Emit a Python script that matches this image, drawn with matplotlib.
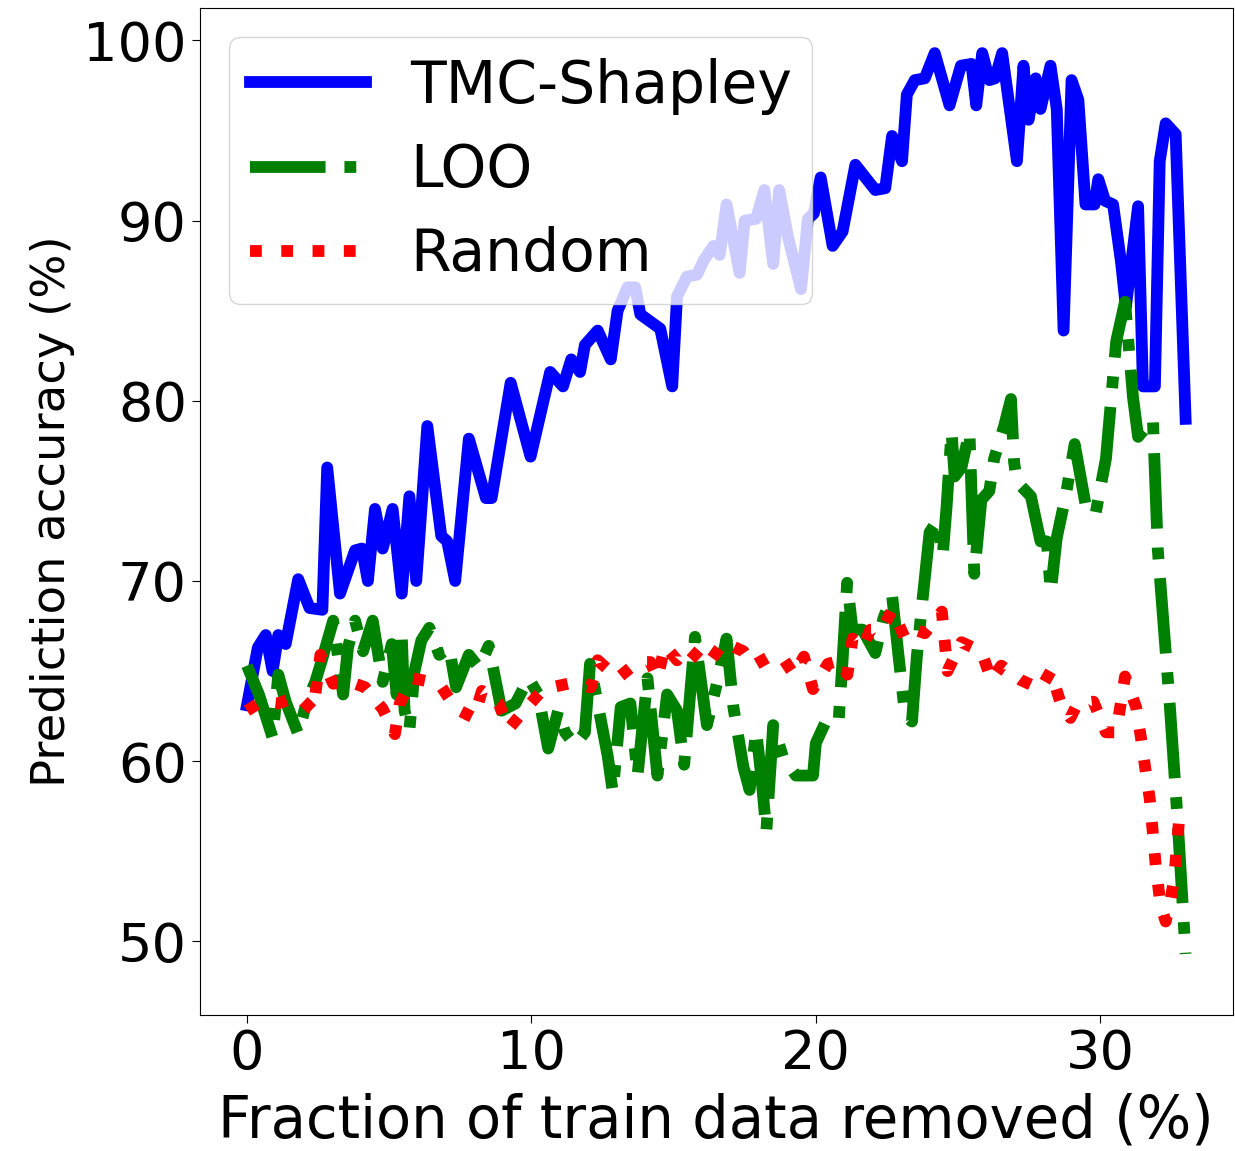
import matplotlib
matplotlib.use("Agg")
import matplotlib.pyplot as plt

# TMC-Shapley
x_tmc = [0, 0.38, 0.66, 0.9, 1.1, 1.36, 1.8, 2.2, 2.65, 2.82, 3.27, 3.8, 4.04, 4.25,
         4.5, 4.77, 5.12, 5.44, 5.71, 5.95, 6.34, 6.83, 7.04, 7.32, 7.8, 8.4, 8.6,
         9.27, 9.97, 10.66, 11.11, 11.4, 11.71, 11.88, 12.33, 12.79, 13.03, 13.38,
         13.65, 13.83, 14.53, 14.95, 15.12, 15.47, 15.82, 16.06, 16.4, 16.62, 16.86,
         17.32, 17.5, 17.9, 18.19, 18.5, 18.71, 19.02, 19.48, 19.72, 19.93, 20.17,
         20.59, 20.94, 21.39, 21.74, 22.09, 22.44, 22.68, 23.03, 23.2, 23.48, 23.83,
         24.18, 24.7, 25.1, 25.47, 25.64, 25.85, 26.1, 26.3, 26.55, 27.07, 27.3,
         27.48, 27.73, 27.9, 28.25, 28.47, 28.71, 28.99, 29.23, 29.48, 29.8, 29.93,
         30.17, 30.45, 30.73, 30.9, 31.33, 31.5, 31.92, 32.09, 32.3, 32.65, 33.0]
y_tmc = [63.1, 66.3, 67.0, 65.0, 67.0, 66.5, 70.1, 68.5, 68.4, 76.3, 69.3, 71.7, 71.8, 70.0,
         74.0, 71.8, 74.0, 69.3, 74.7, 70.0, 78.6, 72.5, 72.2, 70.0, 77.9, 74.6, 74.6,
         81.0, 76.9, 81.6, 80.8, 82.3, 81.6, 83.1, 83.9, 82.3, 85.0, 86.3,
         86.3, 84.8, 84.0, 80.8, 85.8, 86.9, 87.0, 87.8, 88.6, 88.1, 90.9,
         87.1, 90.0, 90.1, 91.7, 87.6, 91.7, 89.1, 86.2, 90.1, 90.4, 92.4,
         88.6, 89.4, 93.1, 92.4, 91.7, 91.8, 94.7, 93.3, 97.0, 97.8, 97.9,
         99.3, 96.4, 98.6, 98.7, 96.4, 99.3, 97.8, 97.9, 99.3, 93.3, 98.6,
         95.6, 97.9, 96.2, 98.6, 96.2, 83.9, 97.8, 96.7, 90.9, 90.9, 92.3,
         91.1, 90.9, 87.7, 85.2, 90.8, 80.8, 80.8, 93.3, 95.4, 94.8, 79.0]

# LOO
x_loo = [0, 0.42, 0.9, 1.1, 1.36, 1.8, 2.1, 2.4, 2.65, 3.03, 3.38, 3.55, 3.8, 4.08, 4.42,
         4.77, 5.09, 5.26, 5.44, 5.54, 5.71, 5.89, 6.13, 6.41, 6.76, 7.11, 7.35, 7.8,
         8.15, 8.5, 8.95, 9.44, 9.9, 10.24, 10.59, 10.94, 11.18, 11.53, 11.88, 12.06,
         12.33, 12.68, 12.86, 13.14, 13.48, 13.73, 14.08, 14.43, 14.77, 15.12, 15.37,
         15.75, 16.17, 16.52, 16.86, 17.1, 17.45, 17.67, 17.9, 18.08, 18.26, 18.5,
         18.85, 19.3, 19.9, 20.0, 20.35, 20.8, 20.94, 21.1, 21.29, 21.64, 22.09,
         22.37, 22.68, 22.89, 23.14, 23.38, 23.55, 23.76, 24.0, 24.29, 24.46, 24.6,
         24.77, 24.88, 25.12, 25.4, 25.57, 25.82, 26.1, 26.27, 26.62, 26.86, 26.97,
         27.07, 27.56, 27.9, 28.12, 28.26, 28.47, 28.78, 29.1, 29.51, 29.83, 30.2,
         30.56, 30.87, 31.15, 31.33, 31.85, 32.02, 32.44, 32.72, 33.0]
y_loo = [65.3, 63.7, 61.3, 64.8, 63.3, 61.5, 63.3, 64.4, 65.7, 67.8, 63.7, 66.3, 67.8, 66.1, 67.8,
         64.4, 66.5, 63.7, 67.0, 62.8, 61.7, 65.0, 66.7, 67.4, 65.9, 66.3, 64.1, 65.9,
         65.2, 66.4, 62.8, 63.2, 64.6, 63.7, 60.7, 62.8, 61.6, 60.9, 61.6, 65.4,
         63.2, 60.3, 58.3, 63.0, 63.2, 59.2, 64.6, 59.2, 63.7, 62.8, 59.8,
         66.9, 62.0, 64.3, 66.8, 63.0, 59.7, 58.4, 61.7, 59.2, 56.1, 62.0,
         60.2, 59.2, 59.2, 61.0, 62.2, 62.2, 65.6, 69.9, 67.3, 67.3, 66.0,
         67.9, 69.2, 66.1, 62.5, 62.2, 65.8, 69.1, 72.7, 73.4, 71.4, 74.2,
         78.3, 75.8, 76.3, 78.3, 70.4, 74.5, 75.0, 76.8, 78.6, 80.1, 76.6,
         75.5, 74.7, 72.2, 72.2, 69.4, 72.4, 74.7, 77.6, 74.0, 73.7, 76.8,
         83.3, 85.5, 80.2, 78.0, 79.0, 71.8, 63.2, 56.7, 49.3]

# Random
x_rand = [0, 0.49, 1.08, 1.81, 2.33, 2.58, 3.03, 3.62, 4.15, 4.77, 5.2, 5.37, 5.82, 6.76,
          7.35, 7.98, 8.26, 8.85, 9.2, 9.79, 10.42, 11.29, 12.09, 12.33, 13.03, 13.73,
          14.18, 14.43, 14.7, 15.12, 15.47, 16.17, 16.76, 17.45, 17.8, 18.36, 18.85,
          19.23, 19.58, 19.9, 20.42, 20.87, 21.11, 21.29, 21.64, 21.92, 22.33, 22.68,
          23.14, 23.48, 23.83, 24.43, 24.63, 25.12, 25.82, 26.17, 26.52, 27.21, 27.9,
          28.26, 28.61, 28.95, 29.2, 29.76, 30.2, 30.56, 30.87, 31.26, 31.43, 31.6,
          31.74, 31.85, 31.95, 32.12, 32.3, 32.47, 32.6, 32.78, 33.0]
y_rand = [62.8, 63.3, 63.2, 63.6, 62.8, 65.9, 64.3, 64.4, 64.1, 62.9, 61.5, 63.2, 64.6, 64.3,
          62.9, 62.4, 63.9, 63.2, 61.8, 62.9, 64.0, 64.3, 64.1, 65.6, 64.6, 65.5,
          65.5, 64.6, 66.4, 65.6, 66.3, 65.3, 66.6, 66.1, 65.3, 65.8, 65.7,
          64.8, 65.8, 64.0, 65.4, 65.6, 64.8, 66.8, 66.3, 67.3, 67.3, 68.4,
          66.8, 67.3, 67.1, 68.3, 65.0, 66.6, 66.1, 64.5, 65.3, 64.5, 64.0,
          65.0, 63.2, 62.4, 63.2, 63.3, 61.6, 61.6, 64.7, 63.0, 61.3, 59.4,
          57.9, 56.0, 54.2, 52.0, 51.1, 52.3, 53.5, 56.9, 57.4]

fig = plt.figure(figsize=(12.35, 11.51), dpi=100)
ax = fig.add_axes([0.162, 0.118, 0.836, 0.875])

ax.plot(x_tmc, y_tmc, color='blue', linestyle='-', linewidth=8.5, label='TMC-Shapley')
ax.plot(x_loo, y_loo, color='green', linestyle='-.', linewidth=8.5, label='LOO')
ax.plot(x_rand, y_rand, color='red', linestyle=':', linewidth=8.5, label='Random')

ax.set_ylim(45.9, 101.8)
ax.set_xticks([0, 10, 20, 30])
ax.set_yticks([50, 60, 70, 80, 90, 100])
ax.tick_params(labelsize=39, length=6)
ax.set_xlabel('Fraction of train data removed (%)', fontsize=41.5, labelpad=9)
ax.set_ylabel('Prediction accuracy (%)', fontsize=33.5, labelpad=6)
ax.legend(loc='upper left', fontsize=42, handlelength=2.0, handletextpad=0.75,
          labelspacing=0.47, borderpad=0.35)

fig.savefig('out.png', dpi=100)
